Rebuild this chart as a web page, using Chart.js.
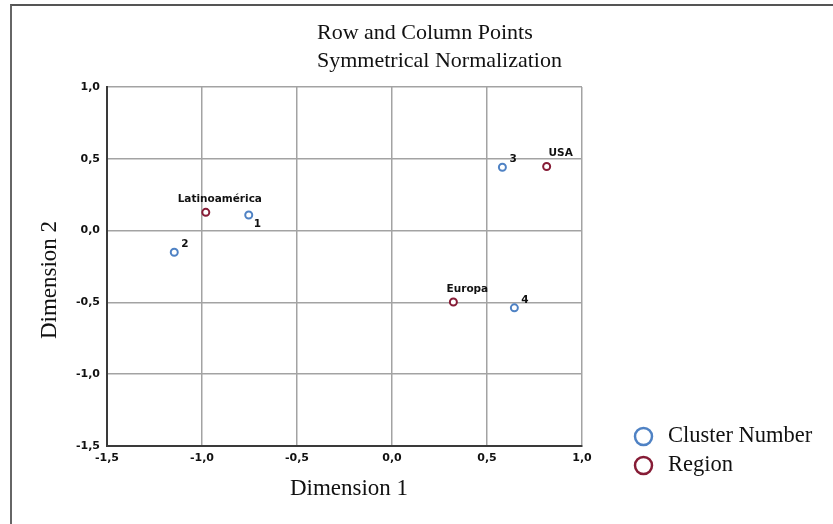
<!DOCTYPE html>
<html>
<head>
<meta charset="utf-8">
<script src="https://cdn.jsdelivr.net/npm/chart.js@4.4.0/dist/chart.umd.min.js"></script>
<style>
  html, body { margin: 0; padding: 0; background: #fff; }
  #wrap { position: relative; width: 833px; height: 524px; }
  #frame { position: absolute; left: 10px; top: 4px; right: 0; bottom: 0;
           border-top: 2px solid #555; border-left: 2px solid #666; pointer-events: none; }
</style>
</head>
<body>
<div id="wrap">
  <canvas id="corrChart"></canvas>
  <div id="frame"></div>
</div>
<script>
// Row and column points (correspondence analysis)
const clusterLabels = ['1', '2', '3', '4'];
const clusterDim1 = [-0.754, -1.146, 0.581, 0.644];
const clusterDim2 = [0.109, -0.151, 0.441, -0.538];
const clusterPlace = ['below', 'above', 'above', 'above'];

const regionLabels = ['Latinoamérica', 'USA', 'Europa'];
const regionDim1 = [-0.98, 0.814, 0.323];
const regionDim2 = [0.127, 0.446, -0.497];

const axisMin = -1.5;
const axisMax = 1.0;
const axisStep = 0.5;

const blue = '#4f82c4';
const maroon = '#861c36';

function toPoints(xs, ys) {
  return xs.map((x, i) => ({ x: x, y: ys[i] }));
}

function commaTick(value) {
  return value.toFixed(1).replace('.', ',');
}

const serif = '"Liberation Serif", "Times New Roman", serif';
const sans = '"DejaVu Sans", Verdana, sans-serif';

// Point labels, titles and the legend are drawn here
const decorations = {
  id: 'decorations',
  afterDatasetsDraw(chart) {
    const ctx = chart.ctx;
    ctx.save();

    // point labels
    ctx.font = 'bold 10.5px ' + sans;
    ctx.fillStyle = '#111';
    ctx.textBaseline = 'middle';
    chart.getDatasetMeta(0).data.forEach((pt, i) => {
      ctx.textAlign = 'left';
      if (clusterPlace[i] === 'below') {
        ctx.fillText(clusterLabels[i], pt.x + 5, pt.y + 9);
      } else {
        ctx.fillText(clusterLabels[i], pt.x + 7, pt.y - 8);
      }
    });
    chart.getDatasetMeta(1).data.forEach((pt, i) => {
      ctx.textAlign = 'center';
      ctx.fillText(regionLabels[i], pt.x + 14, pt.y - 13);
    });

    // title
    ctx.font = '22px ' + serif;
    ctx.textAlign = 'left';
    ctx.fillStyle = '#111';
    ctx.fillText('Row and Column Points', 317, 33);
    ctx.fillText('Symmetrical Normalization', 317, 61);

    // axis titles
    ctx.font = '23px ' + serif;
    ctx.textAlign = 'center';
    ctx.fillText('Dimension 1', 349, 489);
    ctx.save();
    ctx.translate(50, 280);
    ctx.rotate(-Math.PI / 2);
    ctx.fillText('Dimension 2', 0, 0);
    ctx.restore();

    // legend
    const items = [
      { text: 'Cluster Number', color: chart.data.datasets[0].borderColor },
      { text: 'Region', color: chart.data.datasets[1].borderColor }
    ];
    items.forEach((item, i) => {
      const y = 436.5 + i * 29;
      ctx.beginPath();
      ctx.arc(643.5, y, 8.5, 0, Math.PI * 2);
      ctx.lineWidth = 2.5;
      ctx.strokeStyle = item.color;
      ctx.stroke();
      ctx.fillStyle = '#111';
      ctx.textAlign = 'left';
      ctx.font = '22.5px ' + serif;
      ctx.fillText(item.text, 668, y);
    });

    ctx.restore();
  }
};

const ctx = document.getElementById('corrChart');

new Chart(ctx, {
  type: 'scatter',
  data: {
    datasets: [
      {
        label: 'Cluster Number',
        data: toPoints(clusterDim1, clusterDim2),
        borderColor: blue,
        backgroundColor: '#fff',
        borderWidth: 2,
        pointRadius: 3.5
      },
      {
        label: 'Region',
        data: toPoints(regionDim1, regionDim2),
        borderColor: maroon,
        backgroundColor: '#fff',
        borderWidth: 2,
        pointRadius: 3.5
      }
    ]
  },
  options: {
    responsive: true,
    maintainAspectRatio: false,
    animation: false,
    layout: {
      padding: { left: 0, right: 251, top: 87, bottom: 0 }
    },
    plugins: {
      legend: { display: false },
      tooltip: { enabled: false },
      title: { display: false }
    },
    scales: {
      x: {
        type: 'linear',
        min: axisMin,
        max: axisMax,
        afterFit: (scale) => { scale.height = 78; },
        ticks: {
          stepSize: axisStep,
          padding: 6,
          color: '#111',
          font: { family: sans, size: 11, weight: 'bold' },
          callback: commaTick
        },
        grid: { color: '#a3a3a3', lineWidth: 1.5, drawTicks: false },
        border: { color: '#3a3a3a', width: 2 }
      },
      y: {
        type: 'linear',
        min: axisMin,
        max: axisMax,
        afterFit: (scale) => { scale.width = 107; },
        ticks: {
          stepSize: axisStep,
          padding: 7,
          color: '#111',
          font: { family: sans, size: 11, weight: 'bold' },
          callback: commaTick
        },
        grid: { color: '#a3a3a3', lineWidth: 1.5, drawTicks: false },
        border: { color: '#3a3a3a', width: 2 }
      }
    }
  },
  plugins: [decorations]
});
</script>
</body>
</html>
